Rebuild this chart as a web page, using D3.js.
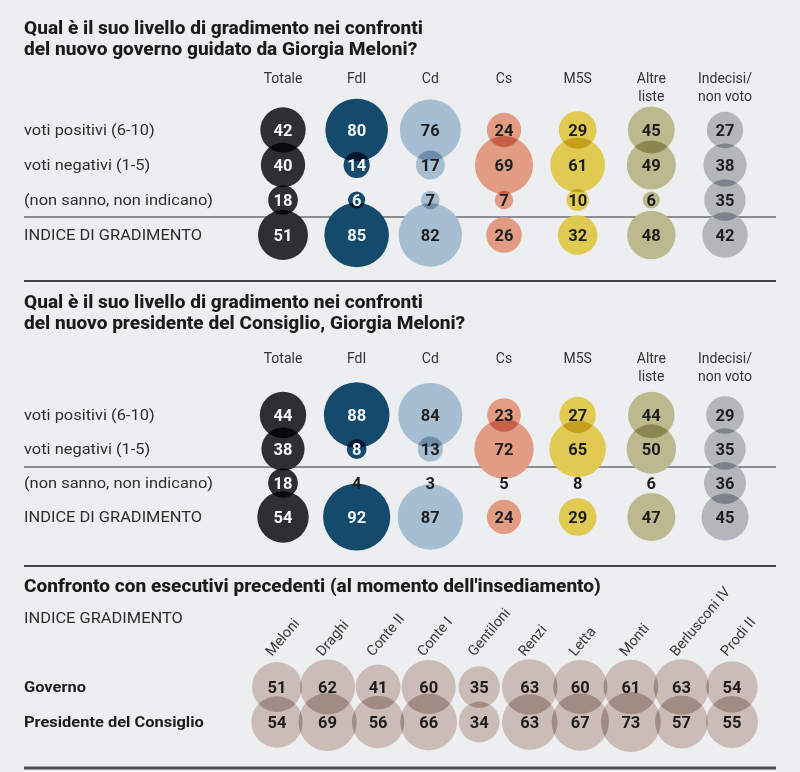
<!DOCTYPE html>
<html>
<head>
<meta charset="utf-8">
<script src="https://cdn.jsdelivr.net/npm/d3@7"></script>
<style>
  html, body { margin: 0; padding: 0; background: #eceef0; }
  svg { display: block; }
  text { font-family: Roboto, "Liberation Sans", sans-serif; }
</style>
</head>
<body>
<svg id="chart" width="800" height="772"></svg>
<script>
// ---------- DATA ----------
const parties = ["Totale", "FdI", "Cd", "Cs", "M5S", "Altre liste", "Indecisi/ non voto"];
const partyHeaders = [["Totale"], ["FdI"], ["Cd"], ["Cs"], ["M5S"], ["Altre", "liste"], ["Indecisi/", "non voto"]];
const rowLabels = ["voti positivi (6-10)", "voti negativi (1-5)", "(non sanno, non indicano)", "INDICE DI GRADIMENTO"];

const title1 = ["Qual è il suo livello di gradimento nei confronti", "del nuovo governo guidato da Giorgia Meloni?"];
const title2 = ["Qual è il suo livello di gradimento nei confronti", "del nuovo presidente del Consiglio, Giorgia Meloni?"];
const title3 = "Confronto con esecutivi precedenti (al momento dell'insediamento)";
const subtitle3 = "INDICE GRADIMENTO";

// Governo: rows = positivi, negativi, non sanno, indice ; one array per party
const govTotale   = [42, 40, 18, 51];
const govFdI      = [80, 14, 6, 85];
const govCd       = [76, 17, 7, 82];
const govCs       = [24, 69, 7, 26];
const govM5S      = [29, 61, 10, 32];
const govAltre    = [45, 49, 6, 48];
const govIndecisi = [27, 38, 35, 42];

// Presidente del Consiglio
const presTotale   = [44, 38, 18, 54];
const presFdI      = [88, 8, 4, 92];
const presCd       = [84, 13, 3, 87];
const presCs       = [23, 72, 5, 24];
const presM5S      = [27, 65, 8, 29];
const presAltre    = [44, 50, 6, 47];
const presIndecisi = [29, 35, 36, 45];
// in the second panel the "non sanno" row only has bubbles for these parties
const presNonSannoBubbles = ["Totale", "Indecisi/ non voto"];

// Confronto con esecutivi precedenti
const executives = ["Meloni", "Draghi", "Conte II", "Conte I", "Gentiloni", "Renzi", "Letta", "Monti", "Berlusconi IV", "Prodi II"];
const execRows = ["Governo", "Presidente del Consiglio"];
const execGoverno    = [51, 62, 41, 60, 35, 63, 60, 61, 63, 54];
const execPresidente = [54, 69, 56, 66, 34, 63, 67, 73, 57, 55];

// ---------- STYLE ----------
const partyColors = {
  "Totale": "#2d2f31",
  "FdI": "#144b6c",
  "Cd": "#a6bed1",
  "Cs": "#e29c84",
  "M5S": "#e0ca52",
  "Altre liste": "#bdb98f",
  "Indecisi/ non voto": "#b3b7bc"
};
const lightText = new Set(["Totale", "FdI"]);
const execColor = "#cbbcb8";

const svg = d3.select("#chart");
const L = 24, R = 776;

const rScale = d3.scaleSqrt().domain([0, 100]).range([0, 35]);
const xParty = d3.scalePoint().domain(parties).range([283, 725]);

// helper: squeeze text horizontally by a ratio
function squeeze(sel, ratio) {
  sel.each(function () {
    const w = this.getComputedTextLength();
    d3.select(this).attr("textLength", w * ratio).attr("lengthAdjust", "spacingAndGlyphs");
  });
}

// ---------- PANEL BUILDER ----------
function panel(cfg) {
  const g = svg.append("g");
  const yRow = d3.scalePoint().domain(rowLabels).range(cfg.rowRange);

  const t = g.selectAll("text.title").data(cfg.title).join("text")
    .attr("class", "title")
    .attr("x", L).attr("y", (d, i) => cfg.titleY + i * 21)
    .attr("font-size", 18).attr("font-weight", 800).attr("fill", "#1b1b1b")
    .text(d => d);
  squeeze(t, titleRatio);

  partyHeaders.forEach((lines, pi) => {
    g.append("text")
      .attr("x", xParty(parties[pi])).attr("text-anchor", "middle")
      .attr("font-size", 14).attr("fill", "#333")
      .selectAll("tspan").data(lines).join("tspan")
      .attr("x", xParty(parties[pi]))
      .attr("y", (d, i) => cfg.headerY + i * 18)
      .text(d => d);
  });

  const rl = g.selectAll("text.rowlab").data(rowLabels).join("text")
    .attr("class", "rowlab")
    .attr("x", L).attr("y", d => yRow(d) + 5)
    .attr("font-size", 15).attr("fill", "#2e2e2e")
    .text(d => d);
  squeeze(rl, labelRatio);

  g.append("line").attr("x1", L).attr("x2", R)
    .attr("y1", cfg.sepY).attr("y2", cfg.sepY)
    .attr("stroke", "#6b6d70").attr("stroke-width", 1.5);

  const cells = [];
  parties.forEach((p, pi) => {
    cfg.values[pi].forEach((v, ri) => {
      cells.push({ party: p, row: rowLabels[ri], ri, v, bubble: cfg.hasBubble(p, ri) });
    });
  });
  const bg = g.append("g").style("isolation", "isolate");
  bg.selectAll("circle").data(cells.filter(d => d.bubble)).join("circle")
    .attr("cx", d => xParty(d.party)).attr("cy", d => yRow(d.row))
    .attr("r", d => rScale(d.v))
    .attr("fill", d => partyColors[d.party])
    .style("mix-blend-mode", "multiply");

  g.selectAll("text.val").data(cells).join("text")
    .attr("class", "val")
    .attr("x", d => xParty(d.party)).attr("y", d => yRow(d.row) + 6)
    .attr("text-anchor", "middle")
    .attr("font-size", 16.5).attr("font-weight", 700)
    .attr("fill", d => (d.bubble && lightText.has(d.party)) ? "#f4f6f8" : "#1d1d1d")
    .text(d => d.v);
}

const probe = svg.append("text").attr("font-size", 18).attr("font-weight", 800).text(title1[0]);
const titleRatio = 399 / probe.node().getComputedTextLength();
probe.attr("font-size", 15).attr("font-weight", 400).text(rowLabels[2]);
const labelRatio = 189 / probe.node().getComputedTextLength();
probe.remove();

panel({
  title: title1, titleY: 34, headerY: 83,
  rowRange: [130, 235], sepY: 217,
  values: [govTotale, govFdI, govCd, govCs, govM5S, govAltre, govIndecisi],
  hasBubble: () => true
});

svg.append("line").attr("x1", L).attr("x2", R).attr("y1", 281).attr("y2", 281)
  .attr("stroke", "#3f4144").attr("stroke-width", 2);

panel({
  title: title2, titleY: 308, headerY: 363,
  rowRange: [415, 517], sepY: 467,
  values: [presTotale, presFdI, presCd, presCs, presM5S, presAltre, presIndecisi],
  hasBubble: (p, ri) => ri !== 2 || presNonSannoBubbles.includes(p)
});

svg.append("line").attr("x1", L).attr("x2", R).attr("y1", 566).attr("y2", 566)
  .attr("stroke", "#3f4144").attr("stroke-width", 2);

// ---------- PANEL 3 ----------
const g3 = svg.append("g");
const t3 = g3.append("text").attr("x", L).attr("y", 592)
  .attr("font-size", 18).attr("font-weight", 800).attr("fill", "#1b1b1b").text(title3);
squeeze(t3, titleRatio);
const s3 = g3.append("text").attr("x", L).attr("y", 623)
  .attr("font-size", 15).attr("fill", "#2e2e2e").text(subtitle3);
squeeze(s3, labelRatio);

const xExec = d3.scalePoint().domain(executives).range([277, 732]);
const yExec = d3.scalePoint().domain(execRows).range([687, 722]);

const rl3 = g3.selectAll("text.rl3").data(execRows).join("text")
  .attr("x", L).attr("y", d => yExec(d) + 5)
  .attr("font-size", 15).attr("font-weight", 700).attr("fill", "#1b1b1b")
  .text(d => d);
squeeze(rl3, labelRatio);

g3.selectAll("text.exlab").data(executives).join("text")
  .attr("class", "exlab")
  .attr("transform", d => `translate(${xExec(d) - 5},657) rotate(-50)`)
  .attr("font-size", 14.5).attr("fill", "#3a3a3a")
  .text(d => d);

const execCells = [];
executives.forEach((e, i) => {
  execCells.push({ e, row: execRows[0], v: execGoverno[i] });
  execCells.push({ e, row: execRows[1], v: execPresidente[i] });
});
const b3 = g3.append("g").style("isolation", "isolate");
b3.selectAll("circle").data(execCells).join("circle")
  .attr("cx", d => xExec(d.e)).attr("cy", d => yExec(d.row))
  .attr("r", d => rScale(d.v))
  .attr("fill", execColor)
  .style("mix-blend-mode", "multiply");
g3.selectAll("text.ev").data(execCells).join("text")
  .attr("class", "ev")
  .attr("x", d => xExec(d.e)).attr("y", d => yExec(d.row) + 6)
  .attr("text-anchor", "middle")
  .attr("font-size", 16.5).attr("font-weight", 700).attr("fill", "#1d1d1d")
  .text(d => d.v);

svg.append("line").attr("x1", L).attr("x2", R).attr("y1", 768).attr("y2", 768)
  .attr("stroke", "#4a4c4f").attr("stroke-width", 3);
</script>
</body>
</html>
